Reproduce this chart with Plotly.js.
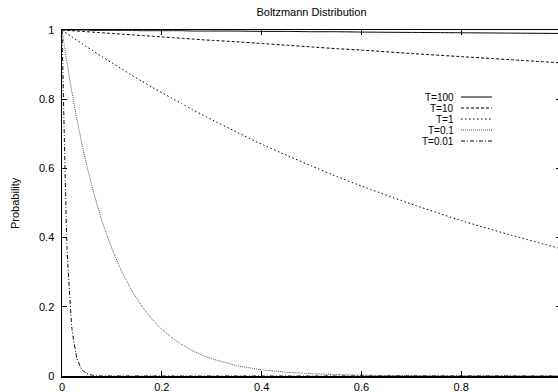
<!DOCTYPE html>
<html>
<head>
<meta charset="utf-8">
<script src="https://cdn.plot.ly/plotly-3.0.1.min.js"></script>
<style>
html,body{margin:0;padding:0;overflow:hidden;background:#fff;width:558px;height:392px;}
#chart{width:561px;height:392px;}
</style>
</head>
<body>
<div id="chart"></div>
<script>
// x sample positions (shared by all curves)
var xVals = [0,0.01,0.02,0.03,0.04,0.05,0.06,0.07,0.08,0.09,0.10,0.12,0.14,0.16,0.18,0.20,0.22,0.24,0.26,0.28,0.30,0.35,0.40,0.45,0.50,0.55,0.60,0.70,0.80,0.90,1.00];

var seriesNames = ["T=100","T=10","T=1","T=0.1","T=0.01"];

var pT100 = [1,1,1,1,1,1,0.999,0.999,0.999,0.999,0.999,0.999,0.999,0.998,0.998,0.998,0.998,0.998,0.997,0.997,0.997,0.997,0.996,0.996,0.995,0.995,0.994,0.993,0.992,0.991,0.990];
var pT10 = [1,0.999,0.998,0.997,0.996,0.995,0.994,0.993,0.992,0.991,0.990,0.988,0.986,0.984,0.982,0.980,0.978,0.976,0.974,0.972,0.970,0.966,0.961,0.956,0.951,0.946,0.942,0.932,0.923,0.914,0.905];
var pT1 = [1,0.990,0.980,0.970,0.961,0.951,0.942,0.932,0.923,0.914,0.905,0.887,0.869,0.852,0.835,0.819,0.803,0.787,0.771,0.756,0.741,0.705,0.670,0.638,0.607,0.577,0.549,0.497,0.449,0.407,0.368];
var pT01 = [1,0.905,0.819,0.741,0.670,0.607,0.549,0.497,0.449,0.407,0.368,0.301,0.247,0.202,0.165,0.135,0.111,0.091,0.074,0.061,0.050,0.030,0.018,0.011,0.0067,0.0041,0.0025,0.0009,0.0003,0.0001,0.00005];
var pT001 = [1,0.37,0.135,0.05,0.018,0.0067,0.0025,0.0009,0.0003,0.0001,0,0,0,0,0,0,0,0,0,0,0,0,0,0,0,0,0,0,0,0,0];

var xTicks = [0,0.2,0.4,0.6,0.8,1];
var xTickText = ["0","0.2","0.4","0.6","0.8","1"];
var yTicks = [0,0.2,0.4,0.6,0.8,1];
var yTickText = ["0","0.2","0.4","0.6","0.8","1"];

var allY = [pT100,pT10,pT1,pT01,pT001];
var styles = [
  {color:"#000", dash:"solid", width:1},
  {color:"#000", dash:"3px,2px", width:1},
  {color:"#000", dash:"1.5px,2.5px", width:1},
  {color:"#555", dash:"1px,1px", width:1},
  {color:"#000", dash:"4px,2px,1px,2px", width:1}
];

var traces = allY.map(function(ys,i){
  return {x:xVals, y:ys, type:"scatter", mode:"lines", name:seriesNames[i],
          line:{color:styles[i].color, dash:styles[i].dash, width:styles[i].width, shape:"spline", smoothing:0.3},
          showlegend:false, hoverinfo:"skip"};
});

var FONT = "Liberation Sans, Arial, sans-serif";
var L = 62, T = 30, W = 499, H = 346;
function px2x(p){return (p-L)/W;}
function px2y(p){return (T+H-p)/H;}

var annotations = [];
var shapes = [];
var rowY = [97,108,119,130,141];
seriesNames.forEach(function(n,i){
  annotations.push({text:n, xref:"paper", yref:"paper", x:px2x(455), y:px2y(rowY[i]),
    xanchor:"right", yanchor:"middle", showarrow:false, borderpad:0,
    font:{family:FONT,size:10,color:"#000"}});
  shapes.push({type:"line", xref:"paper", yref:"paper", x0:px2x(461), x1:px2x(492),
    y0:px2y(rowY[i]), y1:px2y(rowY[i]), line:{color:styles[i].color, dash:styles[i].dash, width:1}});
});
annotations.push({text:"Probability", xref:"paper", yref:"paper", x:px2x(15), y:0.5,
  xanchor:"center", yanchor:"middle", textangle:-90, showarrow:false, font:{family:FONT,size:11,color:"#000"}});

var layout = {
  width:561, height:392,
  margin:{l:L, r:0, t:T, b:392-T-H, pad:0},
  paper_bgcolor:"#fff", plot_bgcolor:"#fff",
  font:{family:FONT, size:11, color:"#000"},
  title:{text:"Boltzmann Distribution", font:{family:FONT,size:11,color:"#000"},
         x:0.5, xref:"paper", y:1-12/392, yref:"container", xanchor:"center", yanchor:"middle"},
  xaxis:{range:[0,1], tickvals:xTicks, ticktext:xTickText, ticks:"inside", ticklen:5, tickwidth:1, tickcolor:"#000",
         showline:true, linecolor:"#000", linewidth:1.5, mirror:"ticks", showgrid:false, zeroline:false,
         tickfont:{family:FONT,size:11,color:"#000"}},
  yaxis:{range:[0,1], tickvals:yTicks, ticktext:yTickText, ticks:"inside", ticklen:5, tickwidth:1, tickcolor:"#000",
         showline:true, linecolor:"#000", linewidth:1.5, mirror:"ticks", showgrid:false, zeroline:false,
         tickfont:{family:FONT,size:11,color:"#000"}, ticklabelstandoff:4},
  annotations:annotations,
  shapes:shapes
};

Plotly.newPlot("chart", traces, layout, {staticPlot:true, displayModeBar:false});
</script>
</body>
</html>
